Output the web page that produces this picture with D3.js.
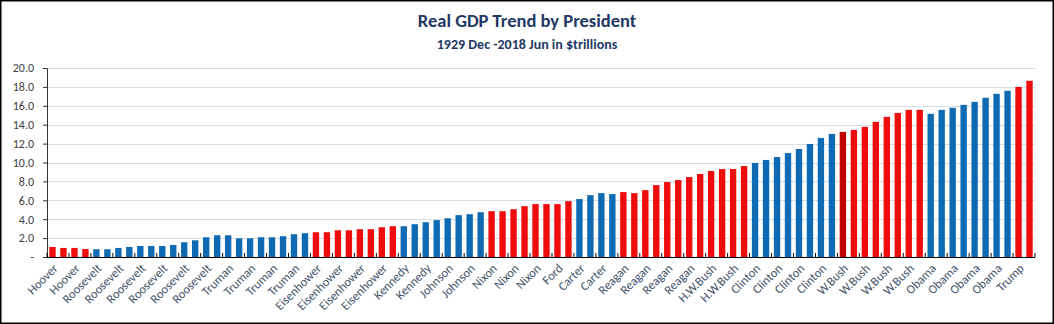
<!DOCTYPE html>
<html lang="en">
  <head>
    <meta charset="UTF-8" />
    <title>Real GDP Trend by President</title>
    <style>
      body { margin: 0; background: #fff; }
      text { font-family: Calibri, Carlito, "Open Sans", sans-serif; }
    </style>
  </head>
  <body>
    <svg></svg>
    <script src="https://cdnjs.cloudflare.com/ajax/libs/d3/7.8.5/d3.min.js"></script>
    <script>
      // one bar per year, Dec 1929 .. Jun 2018
      const years = d3.range(1929, 2019);

      // who held office for each year's bar
      const terms = [
        ["Hoover", 1929, 1932],
        ["Roosevelt", 1933, 1944],
        ["Truman", 1945, 1952],
        ["Eisenhower", 1953, 1960],
        ["Kennedy", 1961, 1964],
        ["Johnson", 1965, 1968],
        ["Nixon", 1969, 1974],
        ["Ford", 1975, 1976],
        ["Carter", 1977, 1980],
        ["Reagan", 1981, 1988],
        ["H.W.Bush", 1989, 1992],
        ["Clinton", 1993, 2000],
        ["W.Bush", 2001, 2008],
        ["Obama", 2009, 2016],
        ["Trump", 2017, 2018]
      ];
      const republicans = ["Hoover", "Eisenhower", "Nixon", "Ford", "Reagan", "H.W.Bush", "W.Bush", "Trump"];
      const highlightYear = 2001;

      // real GDP, $ trillions
      const gdp = [
        1.06, 0.96, 0.96, 0.85, 0.82, 0.82, 0.96, 1.06, 1.17, 1.17, 1.17, 1.27,
        1.56, 1.77, 2.09, 2.30, 2.30, 1.98, 1.98, 2.09, 2.09, 2.20, 2.41, 2.52,
        2.62, 2.62, 2.83, 2.83, 2.94, 2.94, 3.15, 3.26,
        3.26, 3.47, 3.68, 3.90, 4.10, 4.43, 4.53, 4.74,
        4.85, 4.85, 5.06, 5.38, 5.60, 5.60, 5.60, 5.91,
        6.13, 6.55, 6.76, 6.66,
        6.87, 6.76, 7.08, 7.61, 7.93, 8.14, 8.46, 8.78, 9.10, 9.31, 9.31, 9.63,
        9.95, 10.27, 10.58, 11.00, 11.43, 11.96, 12.60, 13.03,
        13.24, 13.45, 13.77, 14.30, 14.83, 15.25, 15.57, 15.57,
        15.15, 15.57, 15.79, 16.10, 16.42, 16.85, 17.27, 17.59,
        18.00, 18.65
      ];

      const yTicks = d3.range(0, 21, 2);

      const presidentOf = y => terms.find(t => y >= t[1] && y <= t[2])[0];
      const data = years.map((yr, i) => ({
        year: yr,
        president: presidentOf(yr),
        value: gdp[i]
      }));

      const W = 1054, H = 324;
      const m = { top: 68, right: 19, bottom: 67, left: 47 };

      const svg = d3.select("svg").attr("width", W).attr("height", H);

      svg.append("rect")
        .attr("x", 0.75).attr("y", 0.75)
        .attr("width", W - 1.5).attr("height", H - 1.5)
        .attr("fill", "#fff").attr("stroke", "#000").attr("stroke-width", 1.5);

      svg.append("text")
        .attr("x", 527).attr("y", 27)
        .attr("text-anchor", "middle")
        .attr("font-size", 18.5).attr("font-weight", "bold")
        .attr("fill", "#1f3864")
        .text("Real GDP Trend by President");

      svg.append("text")
        .attr("x", 527).attr("y", 49)
        .attr("text-anchor", "middle")
        .attr("font-size", 14).attr("font-weight", "bold")
        .attr("fill", "#1f3864")
        .text("1929 Dec -2018 Jun in $trillions");

      const x = d3.scaleBand()
        .domain(data.map(d => d.year))
        .range([m.left, W - m.right])
        .paddingInner(0.42)
        .paddingOuter(0.21);

      const y = d3.scaleLinear().domain([0, 20]).range([H - m.bottom, m.top]);

      // gridlines
      svg.append("g")
        .selectAll("line")
        .data(yTicks.filter(t => t > 0))
        .join("line")
        .attr("x1", m.left).attr("x2", W - m.right)
        .attr("y1", d => Math.round(y(d)) + 0.5).attr("y2", d => Math.round(y(d)) + 0.5)
        .attr("stroke", "#d5dde6");

      // y axis
      const yAxis = svg.append("g")
        .attr("transform", `translate(${m.left},0)`)
        .call(d3.axisLeft(y).tickValues(yTicks).tickSize(4).tickPadding(9)
          .tickFormat(d => d === 0 ? "- " : d3.format(".1f")(d)));
      yAxis.select(".domain").attr("stroke", "#333");
      yAxis.selectAll(".tick line").attr("stroke", "#333");
      yAxis.selectAll("text").attr("font-size", 12).attr("fill", "#404040")
        .style("font-family", 'Calibri, Carlito, "Open Sans", sans-serif');

      // bars
      svg.append("g")
        .selectAll("rect")
        .data(data)
        .join("rect")
        .attr("x", d => x(d.year))
        .attr("width", x.bandwidth())
        .attr("y", d => y(d.value))
        .attr("height", d => y(0) - y(d.value))
        .attr("fill", d => d.year === highlightYear ? "#c00000"
          : republicans.includes(d.president) ? "#ee0c0c" : "#0f6ab4");

      // x axis: ticks every second year, pointing inward
      const left = m.left, right = W - m.right;
      const xAxis = svg.append("g");
      xAxis.append("line")
        .attr("x1", left).attr("x2", right)
        .attr("y1", y(0) + 0.5).attr("y2", y(0) + 0.5)
        .attr("stroke", "#000");
      xAxis.selectAll(".xt")
        .data(d3.range(0, years.length + 1, 2))
        .join("line")
        .attr("class", "xt")
        .attr("x1", i => left + i * (right - left) / years.length)
        .attr("x2", i => left + i * (right - left) / years.length)
        .attr("y1", y(0) - 4).attr("y2", y(0))
        .attr("stroke", "#000");

      // president labels on every second bar
      svg.append("g")
        .selectAll("text")
        .data(data.filter((d, i) => i % 2 === 0))
        .join("text")
        .attr("transform", d => `translate(${x(d.year) + x.bandwidth() / 2 + 3},${y(0) + 9}) rotate(-45)`)
        .attr("text-anchor", "end")
        .attr("dy", "0.35em")
        .attr("font-size", 12.5)
        .attr("fill", "#44546a")
        .text(d => d.president);
    </script>
  </body>
</html>
